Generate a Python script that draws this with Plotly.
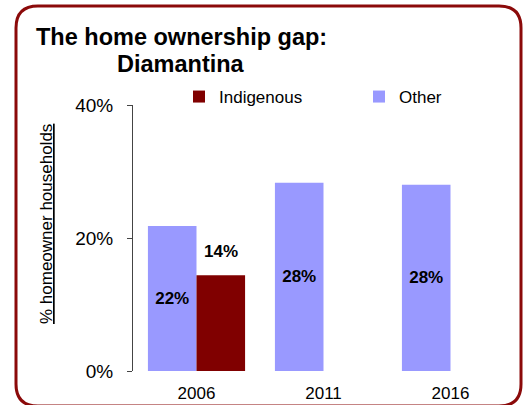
import plotly.graph_objects as go

# Census years and home-ownership shares (% of households)
years = ["2006", "2011", "2016"]
other_pct = [21.8, 28.3, 28.0]
indigenous_pct = [14.4, None, None]

series_names = ["Other", "Indigenous"]
series_colors = ["#9999FF", "#800000"]

title_lines = ["The home ownership gap:", "Diamantina"]
y_title = "% homeowner households"
y_ticks = [0, 20, 40]
y_tick_text = ["%d%%" % t for t in y_ticks]

FONT = "Liberation Sans, Arial, sans-serif"
W, H = 528, 405
# plot area in pixels (left, right, top, bottom)
L, R, T, B = 133, 514, 105, 371


def px(x):
    return (x - L) / (R - L)


def py(y):
    return (B - y) / (B - T)


fig = go.Figure()

fig.add_trace(go.Bar(
    x=years, y=other_pct, name=series_names[0],
    marker=dict(color=series_colors[0], line=dict(width=0)),
    texttemplate="%{y:.0f}%", textposition="inside",
    insidetextanchor="middle",
    textfont=dict(family=FONT, size=17, color="black", weight="bold"),
    hoverinfo="skip",
))
fig.add_trace(go.Bar(
    x=years, y=indigenous_pct, name=series_names[1],
    marker=dict(color=series_colors[1], line=dict(width=0)),
    hoverinfo="skip",
))

annotations = []

# title, two centred bold lines
for text, yc in zip(title_lines, (37, 64)):
    annotations.append(dict(
        x=px(181), y=py(yc), xref="paper", yref="paper",
        text="<b>%s</b>" % text, showarrow=False,
        font=dict(family=FONT, size=23.5, color="black"),
        xanchor="center", yanchor="middle",
    ))

# value label floating above the Indigenous bar
for i, v in enumerate(indigenous_pct):
    if v is None:
        continue
    annotations.append(dict(
        x=i, y=v, xref="x", yref="y", xshift=24, yshift=12,
        yanchor="bottom", showarrow=False,
        text="<b>%.0f%%</b>" % v,
        font=dict(family=FONT, size=17, color="black"),
    ))

# rotated, underlined axis title
annotations.append(dict(
    x=px(46), y=py(224), xref="paper", yref="paper",
    text="<u>%s</u>" % y_title, textangle=-90, showarrow=False,
    font=dict(family=FONT, size=17, color="black"),
    xanchor="center", yanchor="middle",
))

# rounded frame around the whole chart
x0, x1, y0, y1, r = 16, 521, 6, 406, 22
frame = (
    f"M {px(x0 + r)},{py(y0)} L {px(x1 - r)},{py(y0)} "
    f"Q {px(x1)},{py(y0)} {px(x1)},{py(y0 + r)} "
    f"L {px(x1)},{py(y1 - r)} "
    f"Q {px(x1)},{py(y1)} {px(x1 - r)},{py(y1)} "
    f"L {px(x0 + r)},{py(y1)} "
    f"Q {px(x0)},{py(y1)} {px(x0)},{py(y1 - r)} "
    f"L {px(x0)},{py(y0 + r)} "
    f"Q {px(x0)},{py(y0)} {px(x0 + r)},{py(y0)} Z"
)

fig.update_layout(
    width=W, height=H,
    margin=dict(l=L, r=W - R, t=T, b=H - B, pad=0, autoexpand=False),
    paper_bgcolor="white", plot_bgcolor="white",
    font=dict(family=FONT, color="black"),
    barmode="group", bargap=0.235, bargroupgap=0,
    legend=dict(
        orientation="h", traceorder="reversed",
        xref="paper", yref="paper",
        x=px(219 - 40), xanchor="left",
        y=py(97), yanchor="middle",
        font=dict(family=FONT, size=17, color="black"),
        entrywidth=135, bgcolor="rgba(0,0,0,0)",
    ),
    xaxis=dict(
        type="category", range=[-0.5, 2.5], automargin=False,
        showline=False, ticks="", showgrid=False, zeroline=False,
        tickfont=dict(family=FONT, size=17, color="black"),
        ticklabelstandoff=10,
    ),
    yaxis=dict(
        range=[0, 40], tickvals=y_ticks, ticktext=y_tick_text,
        automargin=False,
        showline=True, linecolor="#444", linewidth=1,
        ticks="outside", ticklen=5, tickcolor="#444", tickwidth=1,
        showgrid=False, zeroline=False,
        tickfont=dict(family=FONT, size=19, color="black"),
        ticklabelstandoff=10,
    ),
    annotations=annotations,
    shapes=[dict(
        type="path", xref="paper", yref="paper", path=frame,
        line=dict(color="#8B0A0A", width=3), layer="above",
    )],
)

fig.write_html("out.html")
